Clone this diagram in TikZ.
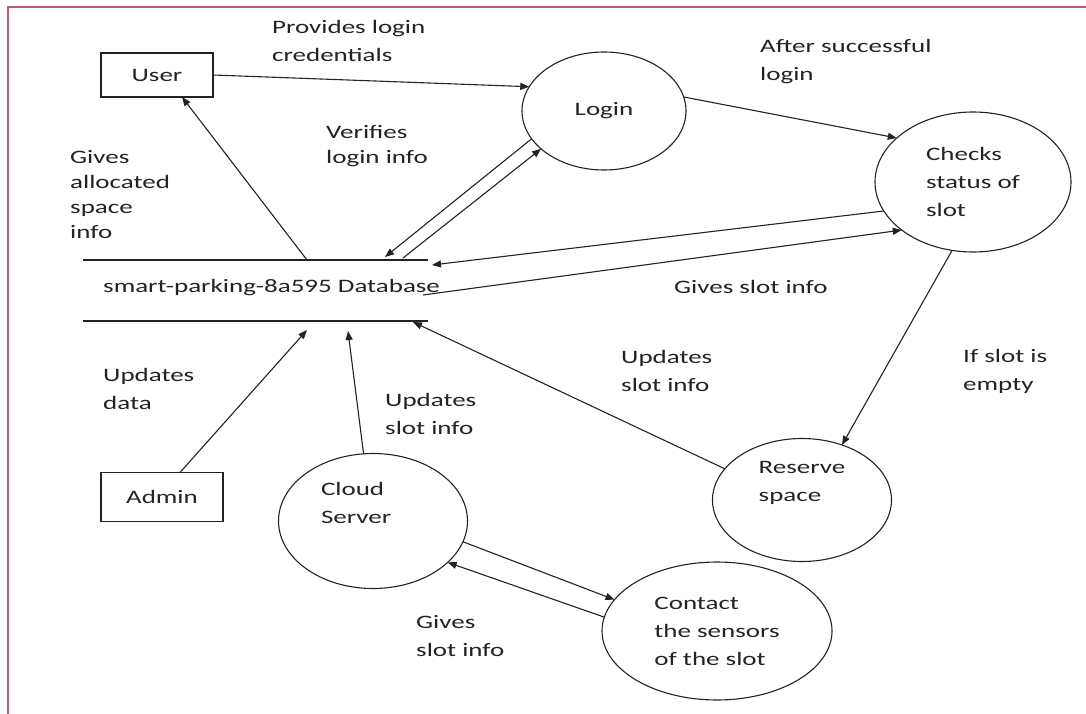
\documentclass[tikz,border=0pt]{standalone}
\usepackage{fontspec}
\setmainfont{Carlito}[FakeStretch=1.42]
\usetikzlibrary{shapes.geometric,arrows.meta}
\definecolor{frame}{RGB}{185,95,115}
\definecolor{ink}{RGB}{35,35,35}
\begin{document}
\begin{tikzpicture}[x=1pt,y=-1pt,
  every node/.style={font=\fontsize{19}{28}\selectfont, text=ink},
  proc/.style={ellipse, draw=ink, line width=1.1pt, inner sep=0pt, outer sep=0pt, align=left},
  ent/.style={rectangle, draw=ink, line width=1.1pt, inner sep=0pt, outer sep=0pt},
  lbl/.style={anchor=west, align=left, inner sep=0pt},
  tight/.style={font=\fontsize{19}{25}\selectfont},
  flow/.style={draw=ink, line width=1.1pt, -{Triangle[length=9pt,width=7pt]}},
  store/.style={draw=ink, line width=1.1pt}
]
\useasboundingbox (0,0) rectangle (1086,714);
\fill[white] (0,0) rectangle (1086,714);
\draw[frame, line width=2pt] (8,714) -- (8,7) -- (1086,7);

% entities
\node[ent, minimum width=112pt, minimum height=44pt] (user) at (157,75) {User};
\node[ent, minimum width=122pt, minimum height=49pt] (admin) at (162,497) {Admin};

% processes
\node[proc, minimum width=164pt, minimum height=118pt] (login) at (604,111) {Login};
\node[proc, minimum width=196pt, minimum height=140pt] (checks) at (973,182) {Checks\\status of\\slot};
\node[proc, minimum width=179pt, minimum height=123pt] (reserve) at (802,500) {Reserve\\space\\\strut};
\node[proc, minimum width=189pt, minimum height=135pt] (cloud) at (373,521) {Cloud\\Server\\\hspace*{104pt}\strut};
\node[proc, minimum width=230pt, minimum height=138pt] (contact) at (717,631) {Contact\\the sensors\\of the slot};

% data store
\node[lbl] (db) at (103,288) {smart-parking-8a595 Database};
\coordinate (dbtl) at (83,260);
\coordinate (dbtr) at (428,260);
\coordinate (dbbl) at (83,321);
\coordinate (dbbr) at (428,321);
\draw[store] (dbtl) -- (dbtr);
\draw[store] (dbbl) -- (dbbr);

\coordinate (dbUser) at (307,260);
\coordinate (dbLoginIn) at (385,257);
\coordinate (dbLoginOut) at (403,258);
\coordinate (dbChecksIn) at (432,265);
\coordinate (dbChecksOut) at (423,295);
\coordinate (dbAdmin) at (307,330);
\coordinate (dbCloud) at (348,331);
\coordinate (dbReserve) at (413,322);

% flows
\draw[flow] (user.east) -- (login.162);
\draw[flow] (login.10) -- (checks.150);
\draw[flow] (login.201) -- (dbLoginIn);
\draw[flow] (dbLoginOut) -- (login.211);
\draw[flow] (checks.198) -- (dbChecksIn);
\draw[flow] (dbChecksOut) -- (checks.214);
\draw[flow] (checks.253) -- (reserve.54);
\draw[flow] (reserve.158) -- (dbReserve);
\draw[flow] (dbUser) -- ([xshift=25pt]user.south);
\draw[flow] ([xshift=18pt]admin.north) -- (dbAdmin);
\draw[flow] (cloud.98) -- (dbCloud);
\draw[flow] (cloud.347) -- (contact.163);
\draw[flow] (contact.173) -- (cloud.331);

% labels
\node[lbl] (tProv) at (272,41) {Provides login\\credentials};
\node[lbl, tight] (tVer) at (326,146) {Verifies\\login info};
\node[lbl, tight] (tGives) at (70,195) {Gives\\allocated\\space\\info};
\node[lbl] (tAfter) at (760,62) {After successful\\login};
\node[lbl] (tGSI) at (674,287) {Gives slot info};
\node[lbl] (tUSI1) at (621,371) {Updates\\slot info};
\node[lbl] (tIf) at (963,371) {If slot is\\empty};
\node[lbl] (tUD) at (103,389) {Updates\\data};
\node[lbl] (tUSI2) at (385,414) {Updates\\slot info};
\node[lbl] (tGSI2) at (416,636) {Gives\\slot info};
\end{tikzpicture}
\end{document}
